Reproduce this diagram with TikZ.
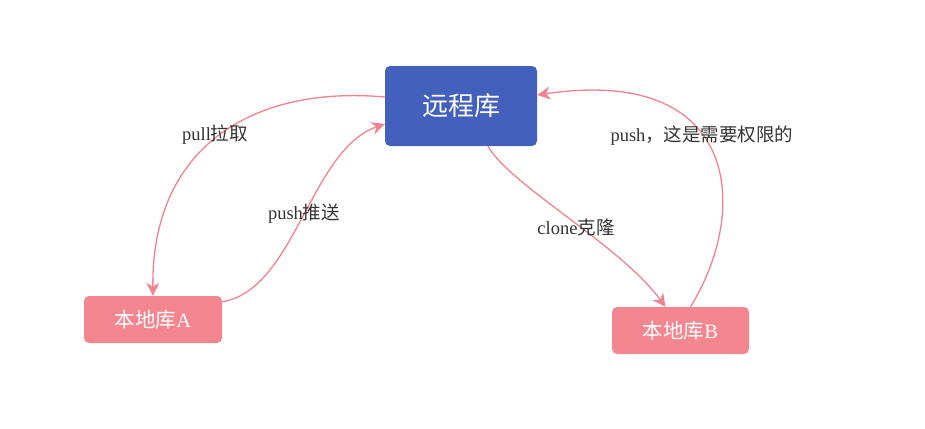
\documentclass[tikz,border=0pt]{standalone}
\usepackage{fontspec}
\setmainfont{Liberation Serif}
\newfontfamily\cjk{Noto Sans CJK SC}
\usetikzlibrary{calc, arrows.meta}
\definecolor{remoteblue}{HTML}{4360BC}
\definecolor{localpink}{HTML}{F3868F}
\definecolor{linkpink}{HTML}{EF8391}
\definecolor{labelgray}{HTML}{333333}
\tikzset{>={Stealth[length=13pt,width=13pt,inset=4pt]},
  repo/.style={rounded corners=5pt, text=white, inner sep=0pt},
  link/.style={linkpink, line width=1.3pt, ->},
  linklabel/.style={labelgray, font=\fontsize{18.5}{20}\selectfont}}

\begin{document}
\begin{tikzpicture}[x=1pt,y=1pt]
\useasboundingbox (0,0) rectangle (925,-428);
\node[repo, fill=remoteblue, minimum width=152pt, minimum height=80pt, font=\fontsize{26}{28}\selectfont] (remote) at (461,-106) {\cjk 远程库};
\node[repo, fill=localpink, minimum width=138pt, minimum height=47pt, font=\fontsize{20.5}{22}\selectfont] (localA) at (153,-319.5) {{\cjk 本地库}A};
\node[repo, fill=localpink, minimum width=137pt, minimum height=47pt, font=\fontsize{20.5}{22}\selectfont] (localB) at (680.5,-330.5) {{\cjk 本地库}B};
\draw[link] ([yshift=9pt]remote.west) .. controls +(-135,12) and +(-2,146) .. (localA.north);
\draw[link] ([yshift=-6pt]localA.north east) .. controls +(73,12) and +(-75,-26) .. ([yshift=-18pt]remote.west);
\draw[link] ([xshift=27pt]remote.south) .. controls +(22,-39) and +(-45.5,62) .. ([xshift=-15pt]localB.north);
\draw[link] ([xshift=10pt]localB.north) .. controls +(60,97) and +(203,30) .. ([yshift=11pt]remote.east);
\node[linklabel] (pullLabel) at (215,-135) {pull{\cjk 拉取}};
\node[linklabel] (pushLabel) at (304,-214) {push{\cjk 推送}};
\node[linklabel] (cloneLabel) at (576,-227) {clone{\cjk 克隆}};
\node[linklabel] (rightsLabel) at (702,-136) {push{\cjk ，这是需要权限的}};
\end{tikzpicture}
\end{document}
